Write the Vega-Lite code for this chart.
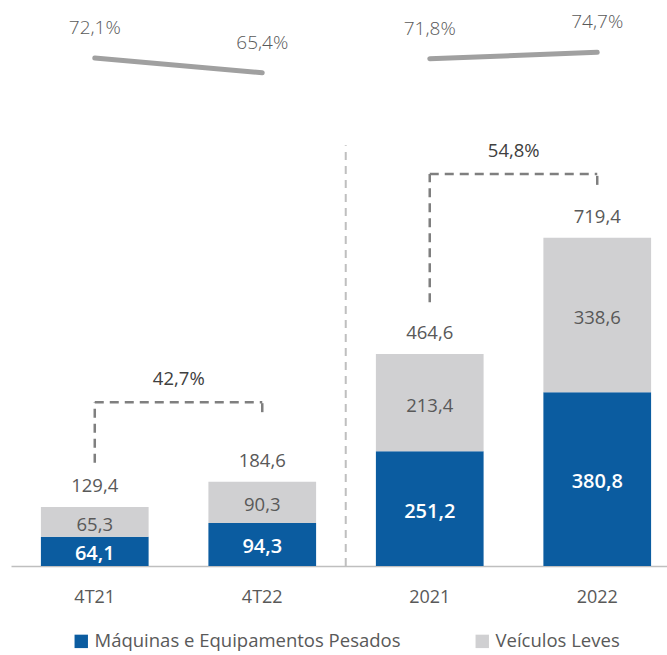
{
  "$schema": "https://vega.github.io/schema/vega-lite/v6.json",
  "width": 667,
  "height": 566,
  "autosize": "none",
  "padding": {"left": 0, "top": 0, "right": 0, "bottom": 89},
  "background": "white",
  "config": {
    "view": {"stroke": null},
    "font": "Open Sans",
    "locale": {"number": {"decimal": ",", "thousands": ".", "grouping": [3], "currency": ["R$", ""]}},
    "legend": {
      "orient": "none", "legendX": 72, "legendY": 632, "direction": "horizontal",
      "symbolType": "square", "symbolSize": 180, "symbolStrokeWidth": 0,
      "labelFontSize": 18.5, "labelColor": "#595959", "labelFont": "Open Sans",
      "columnPadding": 72, "labelLimit": 400
    }
  },
  "datasets": {
    "bars": [
      {"cat": "4T21", "serie": "Máquinas e Equipamentos Pesados", "value": 64.1},
      {"cat": "4T21", "serie": "Veículos Leves", "value": 65.3},
      {"cat": "4T22", "serie": "Máquinas e Equipamentos Pesados", "value": 94.3},
      {"cat": "4T22", "serie": "Veículos Leves", "value": 90.3},
      {"cat": "2021", "serie": "Máquinas e Equipamentos Pesados", "value": 251.2},
      {"cat": "2021", "serie": "Veículos Leves", "value": 213.4},
      {"cat": "2022", "serie": "Máquinas e Equipamentos Pesados", "value": 380.8},
      {"cat": "2022", "serie": "Veículos Leves", "value": 338.6}
    ],
    "totals": [
      {"cat": "4T21", "total": 129.4},
      {"cat": "4T22", "total": 184.6},
      {"cat": "2021", "total": 464.6},
      {"cat": "2022", "total": 719.4}
    ],
    "pct": [
      {"cat": "4T21", "periodo": "trimestre", "pct": 0.721},
      {"cat": "4T22", "periodo": "trimestre", "pct": 0.654},
      {"cat": "2021", "periodo": "ano", "pct": 0.718},
      {"cat": "2022", "periodo": "ano", "pct": 0.747}
    ],
    "bracketLegs": [
      {"cat": "4T21", "low": 226, "top": 359},
      {"cat": "4T22", "low": 337, "top": 359},
      {"cat": "2021", "low": 578, "top": 859},
      {"cat": "2022", "low": 835, "top": 859}
    ],
    "growth": [
      {"cat": "4T21", "cat2": "4T22", "top": 359, "growth": 0.427},
      {"cat": "2021", "cat2": "2022", "top": 859, "growth": 0.548}
    ],
    "separator": [
      {"cat": "2021", "y": 0, "y2": 922}
    ]
  },
  "encoding": {
    "x": {
      "field": "cat", "type": "nominal", "title": null,
      "scale": {"domain": ["4T21", "4T22", "2021", "2022"], "range": [11, 681], "paddingInner": 0.357, "paddingOuter": 0.1786},
      "axis": {"ticks": false, "domainColor": "#BFBFBF", "domainWidth": 1.5, "labelFontSize": 18, "labelColor": "#595959", "labelPadding": 22, "labelAngle": 0, "labelFont": "Open Sans"}
    }
  },
  "layer": [
    {
      "layer": [
        {
          "data": {"name": "bars"},
          "mark": {"type": "bar"},
          "encoding": {
            "y": {"field": "value", "type": "quantitative", "stack": "zero", "scale": {"domain": [0, 1240]}, "axis": null},
            "color": {"field": "serie", "type": "nominal", "title": null,
              "scale": {"domain": ["Máquinas e Equipamentos Pesados", "Veículos Leves"], "range": ["#0B5CA0", "#D0D0D2"]}},
            "order": {"field": "serie", "sort": "ascending"}
          }
        },
        {
          "data": {"name": "bars"},
          "transform": [
            {"stack": "value", "groupby": ["cat"], "sort": [{"field": "serie", "order": "ascending"}], "as": ["v0", "v1"]},
            {"calculate": "(datum.v0 + datum.v1) / 2", "as": "mid"},
            {"filter": "datum.serie === 'Máquinas e Equipamentos Pesados'"}
          ],
          "mark": {"type": "text", "fontSize": 20, "fontWeight": 600, "color": "white", "dy": 3},
          "encoding": {
            "y": {"field": "mid", "type": "quantitative", "scale": {"domain": [0, 1240]}, "axis": null},
            "text": {"field": "value", "type": "quantitative", "format": ".1f"}
          }
        },
        {
          "data": {"name": "bars"},
          "transform": [
            {"stack": "value", "groupby": ["cat"], "sort": [{"field": "serie", "order": "ascending"}], "as": ["v0", "v1"]},
            {"calculate": "(datum.v0 + datum.v1) / 2", "as": "mid"},
            {"filter": "datum.serie === 'Veículos Leves'"}
          ],
          "mark": {"type": "text", "fontSize": 18.5, "color": "#595959", "dy": 3},
          "encoding": {
            "y": {"field": "mid", "type": "quantitative", "scale": {"domain": [0, 1240]}, "axis": null},
            "text": {"field": "value", "type": "quantitative", "format": ".1f"}
          }
        },
        {
          "data": {"name": "totals"},
          "mark": {"type": "text", "fontSize": 18.5, "color": "#595959", "dy": -21},
          "encoding": {
            "y": {"field": "total", "type": "quantitative", "scale": {"domain": [0, 1240]}, "axis": null},
            "text": {"field": "total", "type": "quantitative", "format": ".1f"}
          }
        },
        {
          "data": {"name": "bracketLegs"},
          "mark": {"type": "rule", "color": "#7F7F7F", "strokeWidth": 2.5, "strokeDash": [9, 6]},
          "encoding": {
            "y": {"field": "low", "type": "quantitative", "scale": {"domain": [0, 1240]}, "axis": null},
            "y2": {"field": "top"}
          }
        },
        {
          "data": {"name": "growth"},
          "mark": {"type": "rule", "color": "#7F7F7F", "strokeWidth": 2.5, "strokeDash": [9, 6]},
          "encoding": {
            "x2": {"field": "cat2"},
            "y": {"field": "top", "type": "quantitative", "scale": {"domain": [0, 1240]}, "axis": null}
          }
        },
        {
          "data": {"name": "growth"},
          "mark": {"type": "text", "fontSize": 18.5, "color": "#404040", "dx": 84, "dy": -23},
          "encoding": {
            "y": {"field": "top", "type": "quantitative", "scale": {"domain": [0, 1240]}, "axis": null},
            "text": {"field": "growth", "type": "quantitative", "format": ".1%"}
          }
        },
        {
          "data": {"name": "separator"},
          "mark": {"type": "rule", "color": "#BFBFBF", "strokeWidth": 2, "strokeDash": [8, 6], "xOffset": -84},
          "encoding": {
            "y": {"field": "y", "type": "quantitative", "scale": {"domain": [0, 1240]}, "axis": null},
            "y2": {"field": "y2"}
          }
        }
      ]
    },
    {
      "data": {"name": "pct"},
      "layer": [
        {
          "mark": {"type": "line", "color": "#A0A0A0", "strokeWidth": 5, "strokeCap": "round"},
          "encoding": {
            "y": {"field": "pct", "type": "quantitative", "scale": {"domain": [-1.588, 0.985]}, "axis": null},
            "detail": {"field": "periodo"}
          }
        },
        {
          "mark": {"type": "text", "fontSize": 19, "fontWeight": 300, "color": "#595959", "dy": -30},
          "encoding": {
            "y": {"field": "pct", "type": "quantitative", "scale": {"domain": [-1.588, 0.985]}, "axis": null},
            "text": {"field": "pct", "type": "quantitative", "format": ".1%"}
          }
        }
      ]
    }
  ],
  "resolve": {"scale": {"y": "independent"}}
}
